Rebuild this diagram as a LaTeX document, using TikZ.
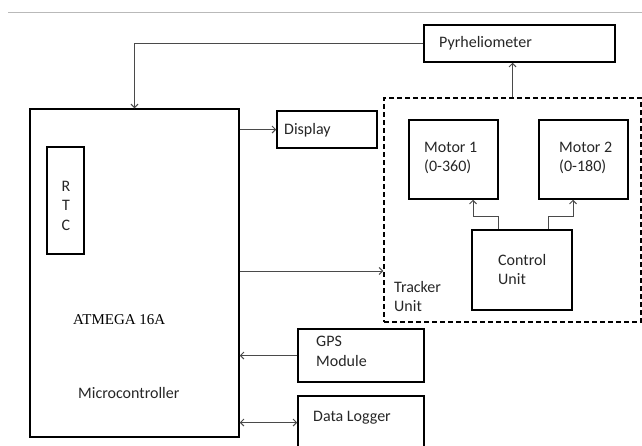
\documentclass[tikz,border=0pt]{standalone}
\usepackage{fontspec}
\setmainfont{Carlito}
\newfontfamily\serifatm{Liberation Serif}
\usetikzlibrary{arrows.meta}
\definecolor{txtc}{HTML}{262626}
\definecolor{linec}{HTML}{4A4A4A}
\begin{document}
\begin{tikzpicture}[x=1pt,y=-1pt,
  box/.style={draw=black,line width=1.5pt,inner sep=0pt,minimum width=#1},
  dbox/.style={draw=black,line width=1.4pt,dash pattern=on 5pt off 3pt,inner sep=0pt},
  txt/.style={text=txtc,inner sep=0pt,font=\fontsize{16}{19.5}\selectfont,align=left},
  conn/.style={draw=linec,line width=1pt,-{Straight Barb[length=3.5pt,width=7pt]}},
  dconn/.style={draw=linec,line width=1pt,{Straight Barb[length=3.5pt,width=7pt]}-{Straight Barb[length=3.5pt,width=7pt]}},
  plain/.style={draw=linec,line width=1pt}]
\useasboundingbox (0,0) rectangle (642,445);
% top rule
\draw[gray!55,line width=1pt] (8,12.5) -- (642,12.5);
% boxes
\node[box=191pt,minimum height=37pt] (pyr) at (519.5,43.5) {};
\node[box=209pt,minimum height=328pt] (mc) at (134.5,273) {};
\node[box=37pt,minimum height=107pt] (rtc) at (65.5,200.5) {};
\node[box=100pt,minimum height=37pt] (disp) at (327,129.5) {};
\node[dbox,minimum width=257pt,minimum height=224pt] (trk) at (512.5,210) {};
\node[box=89pt,minimum height=79pt] (m1) at (453.5,159.5) {};
\node[box=89pt,minimum height=79pt] (m2) at (583.5,159.5) {};
\node[box=100pt,minimum height=80pt] (ctrl) at (522,270) {};
\node[box=126pt,minimum height=53pt] (gps) at (361,355.5) {};
\node[box=126pt,minimum height=64pt] (dlog) at (361,428) {};
% texts
\node[txt,anchor=west] (tpyr) at (439,43) {Pyrheliometer};
\node[txt,anchor=west] (tdisp) at (284,130) {Display};
\node[txt,anchor=west] (tm1) at (424,158) {Motor 1\\(0-360)};
\node[txt,anchor=west] (tm2) at (559,158) {Motor 2\\(0-180)};
\node[txt,anchor=west] (tctrl) at (498,269.5) {Control\\Unit};
\node[txt,anchor=west] (ttrk) at (394,296.5) {Tracker\\Unit};
\node[txt,anchor=west] (tgps) at (316,351.5) {GPS\\Module};
\node[txt,anchor=west] (tdlog) at (313,418) {Data Logger};
\node[txt,align=center] (trtc) at (66,205.5) {R\\T\\C};
\node[txt,anchor=west,text=black,font=\serifatm\fontsize{15}{18}\selectfont] (tatm) at (73,320) {ATMEGA 16A};
\node[txt,anchor=west] (tmc) at (78,393) {Microcontroller};
% helper coordinates
\coordinate (yt) at (0,271);
\coordinate (yd) at (0,422.5);
\coordinate (k1) at (498,216);
\coordinate (k2) at (473,216);
\coordinate (k3) at (548,216);
\coordinate (k4) at (573,216);
% connectors
\draw[conn] (pyr.west) -| (mc.north);
\draw[conn] (trk.north) -- (trk.north |- pyr.south);
\draw[conn] (mc.east |- disp.west) -- (disp.west);
\draw[conn] (mc.east |- yt) -- (trk.west |- yt);
\draw[conn] (gps.west) -- (mc.east |- gps.west);
\draw[dconn] (mc.east |- yd) -- (dlog.west |- yd);
\draw[conn] (ctrl.north -| k1) -- (k1) -- (k2) -- (m1.south -| k2);
\draw[conn] (ctrl.north -| k3) -- (k3) -- (k4) -- (m2.south -| k4);
\end{tikzpicture}
\end{document}
